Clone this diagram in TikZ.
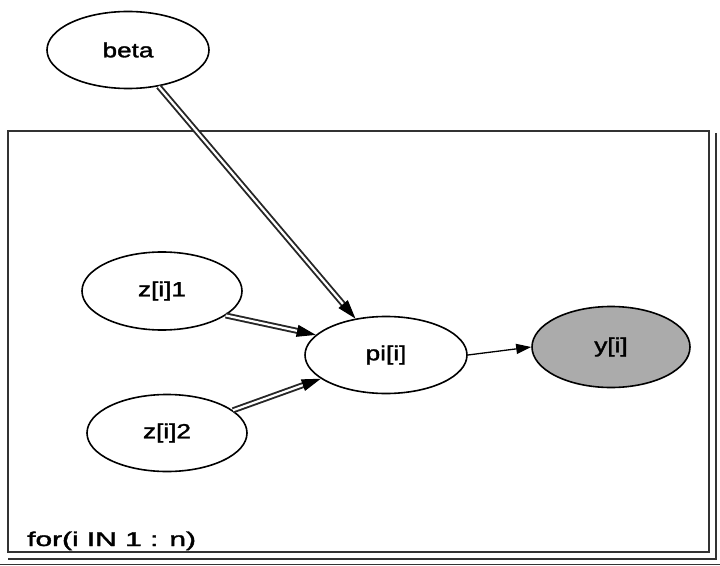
\documentclass[tikz,border=0pt]{standalone}
\usepackage{graphicx}
\usepackage{fontspec}
\setmainfont{Liberation Sans}
\newfontfamily\lblfont[FakeBold=1.5]{Liberation Sans}
\newcommand\widetxt[1]{\scalebox{1.28}[1]{#1}}
\usetikzlibrary{shapes.geometric,arrows.meta,calc}
\tikzset{
  nodeell/.style={draw=black, line width=1.6bp, ellipse, minimum width=#1, minimum height=77bp, inner sep=0pt, font=\lblfont\fontsize{20.5}{24}\selectfont, fill=white},
  nodeell/.default=162bp,
  obsell/.style={nodeell=158bp, fill=black!33, minimum height=81bp},
  dblline/.style={draw=black!85, line width=1.9bp, double=white, double distance=2.2bp},
  tipline/.style={draw=black, line width=1bp, -{Triangle[length=19bp,width=12bp]}},
  sglarrow/.style={draw=black, line width=1.3bp, -{Triangle[length=15bp,width=10bp]}},
  plateline/.style={draw=black!80, line width=1.5bp}
}
\begin{document}
\begin{tikzpicture}[x=1bp,y=-1bp]
\useasboundingbox (0,0) rectangle (720,566);
% plate
\draw[plateline] (8,131) rectangle (709,552);
\draw[plateline] (716,133) -- (716,559) -- (8,559);
\draw[plateline, line width=1bp] (0,564) -- (720,564);
\node[anchor=base west, inner sep=0pt, font=\lblfont\fontsize{20}{23}\selectfont] (lbl) at (27,546) {\scalebox{1.5}[1]{for(i IN 1 : n)}};
% nodes
\node[nodeell] (beta) at (128,50) {\widetxt{beta}};
\node[nodeell=160bp, minimum height=78bp] (z1) at (162,291) {\widetxt{z[i]1}};
\node[nodeell=160bp] (z2) at (167,433) {\widetxt{z[i]2}};
\node[nodeell] (pi) at (386,355) {\widetxt{pi[i]}};
\node[obsell] (y) at (611,347) {\widetxt{y[i]}};
% edges
\draw[dblline] (beta.-50) -- ($(pi.130)!12bp!(beta.-50)$);
\draw[tipline] ($(pi.130)!19bp!(beta.-50)$) -- (pi.130);
\draw[dblline] (z1.-21) -- ($(pi.164)!12bp!(z1.-21)$);
\draw[tipline] ($(pi.164)!19bp!(z1.-21)$) -- (pi.164);
\draw[dblline] (z2.19) -- ($(pi.-160)!12bp!(z2.19)$);
\draw[tipline] ($(pi.-160)!19bp!(z2.19)$) -- (pi.-160);
\draw[sglarrow] (pi.east) -- (y.west);
\end{tikzpicture}
\end{document}
